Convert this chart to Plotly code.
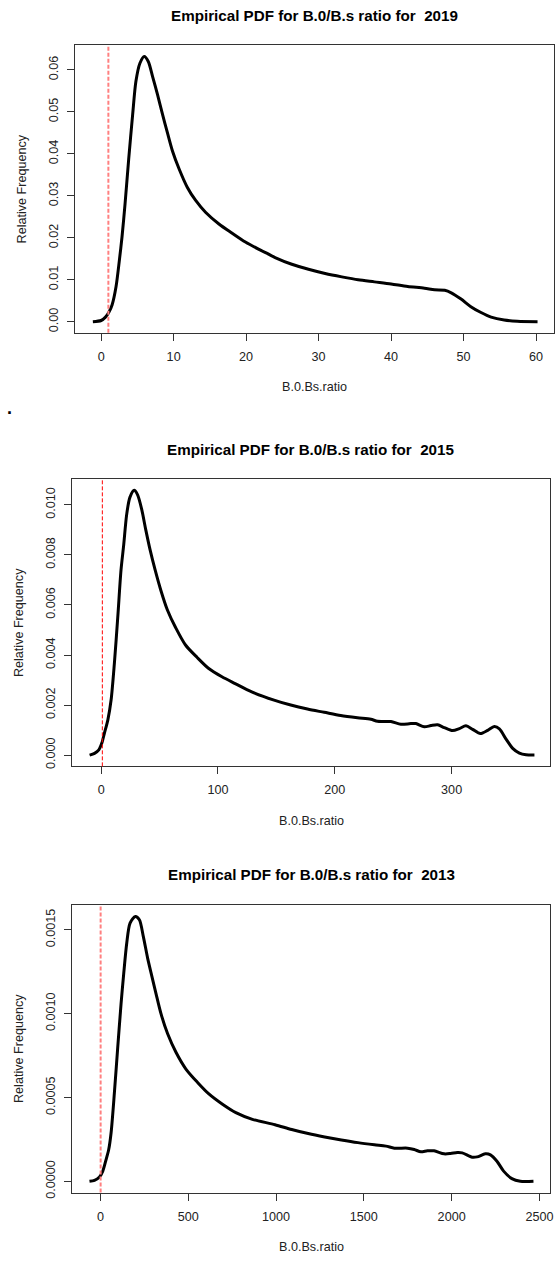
import plotly.graph_objects as go

# Kernel density estimates of the B.0/B.s ratio, one panel per year
x_2019 = [-1.14, 0, 0.6, 1.05, 1.51, 2.06, 2.52, 2.88, 3.3, 3.8, 4.35, 4.8, 5.35, 5.95,
          6.5, 7.1, 7.78, 8.47, 9.15, 9.84, 10.76, 11.9, 13.04, 14.4, 16.25, 18.08, 19.9,
          21.7, 23.1, 24.0, 26.3, 28.6, 30.9, 33.2, 35.45, 37.7, 40.0, 42.3, 44.6, 46.0,
          47.4, 48.3, 49.65, 51.0, 52.4, 53.8, 55.6, 57.4, 60.2]
y_2019 = [0, 0.0003, 0.0011, 0.0022, 0.0040, 0.0084, 0.0147, 0.0202, 0.0281, 0.0387,
          0.0494, 0.0573, 0.0616, 0.0632, 0.0620, 0.0584, 0.0541, 0.0494, 0.0450, 0.0407,
          0.0364, 0.0320, 0.0289, 0.0261, 0.0233, 0.0211, 0.0190, 0.0173, 0.0161, 0.0153,
          0.0137, 0.0125, 0.0115, 0.0107, 0.0100, 0.0095, 0.0090, 0.0084, 0.0080, 0.0076,
          0.0075, 0.0069, 0.0054, 0.0036, 0.0022, 0.0011, 0.0004, 0.0001, 0]

x_2015 = [-9.9, -5.7, -2.0, 0.57, 2.8, 5.7, 8.5, 11.3, 14.2, 17.0, 19.3, 21.8, 24.6, 28.3,
          31.2, 34.8, 38.2, 41.9, 46.2, 51.0, 56.7, 63.7, 72.2, 82.2, 92.1, 103.4, 114.7,
          128.9, 148, 162.3, 176.6, 190.9, 205.1, 219.4, 230.9, 236.6, 248, 256.6, 265.1,
          269.4, 276.6, 282.3, 288, 293.7, 300.9, 306.6, 312.3, 318, 324.6, 330.9, 336.6,
          340.9, 346.6, 352.3, 358, 363.7, 370.9]
y_2015 = [0, 0.00007, 0.00021, 0.00048, 0.00088, 0.0014, 0.0022, 0.00366, 0.0055, 0.0074,
          0.0084, 0.0096, 0.0103, 0.01058, 0.0104, 0.0098, 0.0090, 0.0082, 0.0074, 0.0066,
          0.0058, 0.0051, 0.0044, 0.0039, 0.00346, 0.00313, 0.00286, 0.00253, 0.0022,
          0.0020, 0.00184, 0.00171, 0.00158, 0.00149, 0.00143, 0.00135, 0.00134, 0.00123,
          0.00126, 0.00126, 0.00113, 0.00118, 0.00121, 0.0011, 0.00098, 0.00106, 0.00117,
          0.00103, 0.00086, 0.00099, 0.00114, 0.00105, 0.00064, 0.00027, 0.00008, 0.00001, 0]

x_2013 = [-62.5, -34, -5.7, 13.3, 32, 47, 60.6, 79.5, 98.5, 117.4, 132.6, 149.6, 168.6,
          198.9, 221.6, 244.3, 268.9, 293.6, 316.3, 344.7, 382.6, 430, 486.7, 553, 619, 695,
          771, 865.5, 994, 1089, 1183, 1277, 1372, 1466, 1560, 1626, 1674, 1749, 1787, 1825,
          1862, 1900, 1957, 1994, 2032, 2060, 2117, 2145, 2192, 2221, 2258, 2296, 2343,
          2391, 2466]
y_2013 = [0, 0.000006, 0.000026, 0.000061, 0.00013, 0.00019, 0.00029, 0.00053, 0.00080,
          0.00106, 0.00124, 0.00142, 0.00154, 0.00158, 0.00156, 0.00146, 0.00133, 0.00122,
          0.00112, 0.00100, 0.00088, 0.00077, 0.00067, 0.00059, 0.00052, 0.00046, 0.00041,
          0.00037, 0.000338, 0.000309, 0.000285, 0.000265, 0.000247, 0.000231, 0.000218,
          0.00021, 0.000198, 0.000198, 0.00019, 0.000176, 0.000182, 0.000182, 0.000164,
          0.000166, 0.000172, 0.00017, 0.000144, 0.000146, 0.000164, 0.000158, 0.00012,
          0.000061, 0.000016, 0, 0]

years = ["2019", "2015", "2013"]
threshold = 1  # ratio of 1 marked by the dashed red line

x_ticks = [[0, 10, 20, 30, 40, 50, 60], [0, 100, 200, 300], [0, 500, 1000, 1500, 2000, 2500]]
y_ticks = [[0, 0.01, 0.02, 0.03, 0.04, 0.05, 0.06],
           [0, 0.002, 0.004, 0.006, 0.008, 0.010],
           [0, 0.0005, 0.0010, 0.0015]]
y_formats = [".2f", ".3f", ".4f"]

W, H = 558, 1262
FONT = "Liberation Sans, Arial, sans-serif"

# panel boxes in pixels: left, right, top, bottom
boxes = [(75.8, 556.7, 45.7, 334.3), (72.7, 553.3, 481.7, 770.0), (72.7, 553.3, 909.3, 1198.3)]
x_ranges = [(-3.55, 62.43), (-24.7, 384.5), (-160.3, 2562)]
y_ranges = [(-0.00261, 0.06583), (-0.000449, 0.011018), (-0.0000671, 0.0016484)]
red_styles = [("#ff8080", 2), ("#ff0000", 1), ("#ff8080", 2)]

series = [(x_2019, y_2019), (x_2015, y_2015), (x_2013, y_2013)]

fig = go.Figure()
annotations = []
shapes = []
layout = dict(width=W, height=H, margin=dict(l=0, r=0, t=0, b=0),
              paper_bgcolor="white", plot_bgcolor="white", showlegend=False,
              font=dict(family=FONT, color="#222"))

for i, (year, (xs, ys)) in enumerate(zip(years, series)):
    n = "" if i == 0 else str(i + 1)
    left, right, top, bottom = boxes[i]
    fig.add_trace(go.Scatter(x=xs, y=ys, mode="lines", xaxis="x" + n, yaxis="y" + n,
                             line=dict(color="black", width=3, shape="spline", smoothing=0.8),
                             hoverinfo="skip"))
    axis_common = dict(showgrid=False, zeroline=False, showline=True, mirror=True,
                       linecolor="#333", linewidth=1, ticks="outside", ticklen=7,
                       tickwidth=1, tickcolor="#333",
                       tickfont=dict(family=FONT, size=12.6, color="#222"))
    layout["xaxis" + n] = dict(axis_common, domain=[left / W, right / W],
                               range=list(x_ranges[i]), tickmode="array",
                               tickvals=x_ticks[i], anchor="y" + n, ticklabelstandoff=5)
    layout["yaxis" + n] = dict(axis_common, domain=[1 - bottom / H, 1 - top / H],
                               range=list(y_ranges[i]), tickmode="array",
                               tickvals=y_ticks[i], tickformat=y_formats[i],
                               tickangle=-90, anchor="x" + n, ticklabelstandoff=4)
    color, width = red_styles[i]
    shapes.append(dict(type="line", xref="x" + n, yref="y" + n + " domain",
                       x0=threshold, x1=threshold, y0=0, y1=1,
                       line=dict(color=color, width=width, dash="4px,2px")))
    cx = (left + right) / 2 / W
    annotations.append(dict(text="<b>Empirical PDF for B.0/B.s ratio for \u00a0" + year + "</b>",
                            xref="paper", yref="paper", x=cx, y=1 - (top - 30.5) / H,
                            xanchor="center", yanchor="middle", showarrow=False,
                            font=dict(family=FONT, size=15.2, color="black")))
    annotations.append(dict(text="B.0.Bs.ratio", xref="paper", yref="paper",
                            x=cx, y=1 - (bottom + 54.5) / H, xanchor="center",
                            yanchor="middle", showarrow=False,
                            font=dict(family=FONT, size=12.6, color="#222")))
    annotations.append(dict(text="Relative Frequency", xref="paper", yref="paper",
                            x=(left - 53.4) / W, y=1 - (top + bottom) / 2 / H,
                            xanchor="center", yanchor="middle", textangle=-90,
                            showarrow=False,
                            font=dict(family=FONT, size=12.6, color="#222")))

annotations.append(dict(text="<b>.</b>", xref="paper", yref="paper", x=10 / W, y=1 - 410 / H,
                        xanchor="center", yanchor="middle", showarrow=False,
                        font=dict(family=FONT, size=18, color="black")))

layout["annotations"] = annotations
layout["shapes"] = shapes
fig.update_layout(**layout)
fig.write_html("out.html")
